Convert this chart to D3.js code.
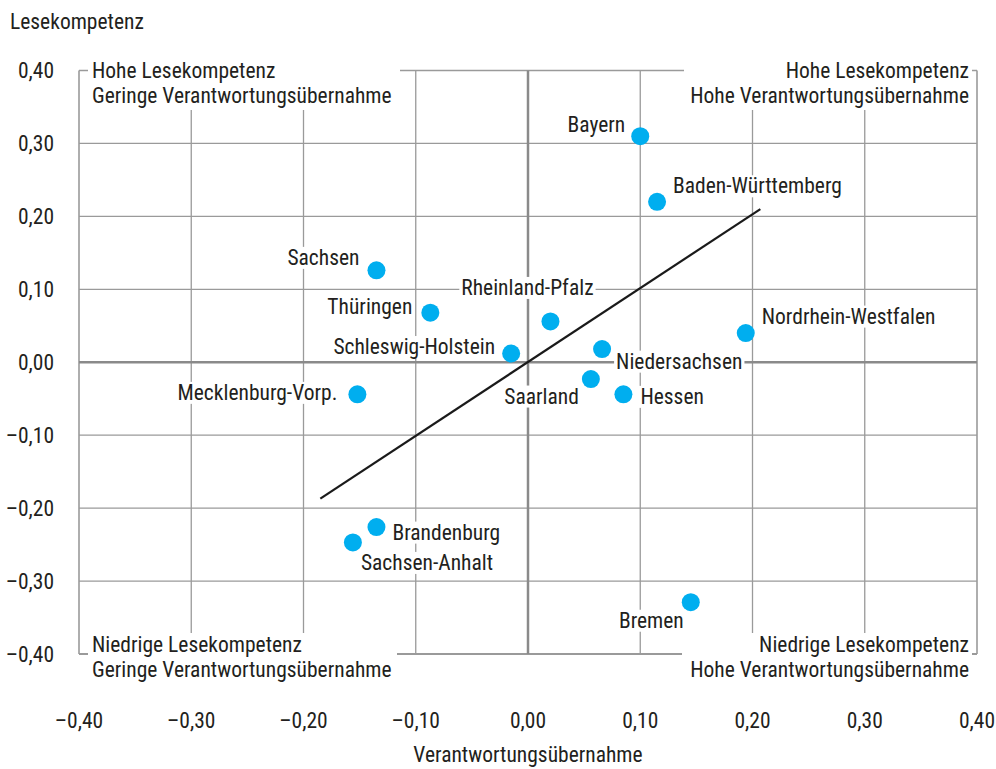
<!DOCTYPE html>
<html>
<head>
<meta charset="utf-8">
<script src="https://cdn.jsdelivr.net/npm/d3@7"></script>
<style>
  body { margin: 0; background: #fff; }
  svg text { font-family: "Liberation Sans Narrow", "Roboto Condensed", "Arial Narrow", sans-serif; fill: #231f20; }
</style>
</head>
<body>
<svg id="chart"></svg>
<script>
// Länder: Verantwortungsübernahme (x) vs. Lesekompetenz (y)
const states = ["Bayern", "Baden-Württemberg", "Sachsen", "Thüringen", "Rheinland-Pfalz",
    "Schleswig-Holstein", "Niedersachsen", "Saarland", "Hessen", "Nordrhein-Westfalen",
    "Mecklenburg-Vorp.", "Brandenburg", "Sachsen-Anhalt", "Bremen"];
const responsibility = [0.100, 0.115, -0.135, -0.087, 0.020, -0.015, 0.066, 0.056, 0.085, 0.194,
    -0.152, -0.135, -0.156, 0.145];
const reading = [0.310, 0.220, 0.126, 0.068, 0.056, 0.012, 0.018, -0.023, -0.044, 0.040,
    -0.044, -0.226, -0.247, -0.329];
const trendX = [-0.185, 0.207];
const trendY = [-0.187, 0.210];
const ticks = [-0.4, -0.3, -0.2, -0.1, 0, 0.1, 0.2, 0.3, 0.4];
const cornerTexts = [
    ["Hohe Lesekompetenz", "Geringe Verantwortungsübernahme"],
    ["Hohe Lesekompetenz", "Hohe Verantwortungsübernahme"],
    ["Niedrige Lesekompetenz", "Geringe Verantwortungsübernahme"],
    ["Niedrige Lesekompetenz", "Hohe Verantwortungsübernahme"]
];

// label placement relative to dot: [dx, dy, anchor]
const labelPos = {
    "Bayern": [-15, -12, "end"],
    "Baden-Württemberg": [16, -16, "start"],
    "Sachsen": [-17, -13, "end"],
    "Thüringen": [-18, -6, "end"],
    "Rheinland-Pfalz": [-23, -34, "middle"],
    "Schleswig-Holstein": [-16, -7, "end"],
    "Niedersachsen": [14, 12, "start"],
    "Saarland": [-12, 17, "end"],
    "Hessen": [17, 2, "start"],
    "Nordrhein-Westfalen": [16, -17, "start"],
    "Mecklenburg-Vorp.": [-20, -2, "end"],
    "Brandenburg": [16, 5, "start"],
    "Sachsen-Anhalt": [8, 20, "start"],
    "Bremen": [-7, 18, "end"]
};

const width = 996, height = 769;
const fontSize = 21.5;
const fmt = v => (v < 0 ? "\u2013" : "") + Math.abs(v).toFixed(2).replace(".", ",");

const svg = d3.select("#chart")
    .attr("width", width)
    .attr("height", height)
    .attr("viewBox", [0, 0, width, height]);

const x = d3.scaleLinear().domain([-0.4, 0.4]).range([79, 977]);
const y = d3.scaleLinear().domain([-0.4, 0.4]).range([654, 70.5]);

// grid
const grid = svg.append("g");
grid.selectAll("line.v")
    .data(ticks.filter(t => t !== 0))
    .join("line")
    .attr("x1", d => x(d)).attr("x2", d => x(d))
    .attr("y1", y(0.4)).attr("y2", y(-0.4))
    .attr("stroke", "#9a9a9a")
    .attr("stroke-width", d => Math.abs(d) === 0.4 ? 1.6 : 1.3);
grid.selectAll("line.h")
    .data(ticks.filter(t => t !== 0))
    .join("line")
    .attr("y1", d => y(d)).attr("y2", d => y(d))
    .attr("x1", x(-0.4)).attr("x2", x(0.4))
    .attr("stroke", "#9a9a9a")
    .attr("stroke-width", d => d === -0.4 ? 2.2 : (d === 0.4 ? 1.6 : 1.3));
// zero lines
grid.append("line")
    .attr("x1", x(0)).attr("x2", x(0)).attr("y1", y(0.4)).attr("y2", y(-0.4))
    .attr("stroke", "#8a8a8a").attr("stroke-width", 2.5);
grid.append("line")
    .attr("y1", y(0)).attr("y2", y(0)).attr("x1", x(-0.4)).attr("x2", x(0.4))
    .attr("stroke", "#8a8a8a").attr("stroke-width", 2.5);

// corner captions with white boxes
const corners = [
    {x: 92, y: 78, anchor: "start", box: [88, 55, 312, 55]},
    {x: 969, y: 78, anchor: "end", box: [684, 55, 288, 55]},
    {x: 92, y: 652, anchor: "start", box: [88, 633, 309, 55]},
    {x: 969, y: 652, anchor: "end", box: [682, 633, 290, 55]}
];
corners.forEach((c, i) => {
    svg.append("rect")
        .attr("x", c.box[0]).attr("y", c.box[1])
        .attr("width", c.box[2]).attr("height", c.box[3])
        .attr("fill", "#fff");
    const t = svg.append("text")
        .attr("font-size", fontSize)
        .attr("text-anchor", c.anchor);
    cornerTexts[i].forEach((line, j) => {
        t.append("tspan").attr("x", c.x).attr("y", c.y + j * 25).text(line);
    });
});

// trend line
svg.append("line")
    .attr("x1", x(trendX[0])).attr("y1", y(trendY[0]))
    .attr("x2", x(trendX[1])).attr("y2", y(trendY[1]))
    .attr("stroke", "#1a1a1a")
    .attr("stroke-width", 2.2);

// points
svg.append("g").selectAll("circle")
    .data(states)
    .join("circle")
    .attr("cx", (d, i) => x(responsibility[i]))
    .attr("cy", (d, i) => y(reading[i]))
    .attr("r", 9)
    .attr("fill", "#00aeef");

// point labels with white background
const labels = svg.append("g");
states.forEach((s, i) => {
    const p = labelPos[s];
    const g = labels.append("g");
    const t = g.append("text")
        .attr("x", x(responsibility[i]) + p[0])
        .attr("y", y(reading[i]) + p[1])
        .attr("dy", "0.35em")
        .attr("text-anchor", p[2])
        .attr("font-size", fontSize)
        .text(s);
    const b = t.node().getBBox();
    g.insert("rect", "text")
        .attr("x", b.x - 2).attr("y", b.y + 2)
        .attr("width", b.width + 4).attr("height", b.height - 3)
        .attr("fill", "#fff");
});

// y tick labels
svg.append("g").selectAll("text")
    .data(ticks)
    .join("text")
    .attr("x", 54)
    .attr("y", d => y(d))
    .attr("dy", "0.35em")
    .attr("text-anchor", "end")
    .attr("font-size", fontSize)
    .text(fmt);

// x tick labels
svg.append("g").selectAll("text")
    .data(ticks)
    .join("text")
    .attr("x", d => x(d))
    .attr("y", 728)
    .attr("text-anchor", "middle")
    .attr("font-size", fontSize)
    .text(fmt);

// axis titles
svg.append("text")
    .attr("x", 10).attr("y", 29)
    .attr("font-size", fontSize)
    .text("Lesekompetenz");
svg.append("text")
    .attr("x", x(0)).attr("y", 762)
    .attr("text-anchor", "middle")
    .attr("font-size", fontSize)
    .text("Verantwortungsübernahme");
</script>
</body>
</html>
